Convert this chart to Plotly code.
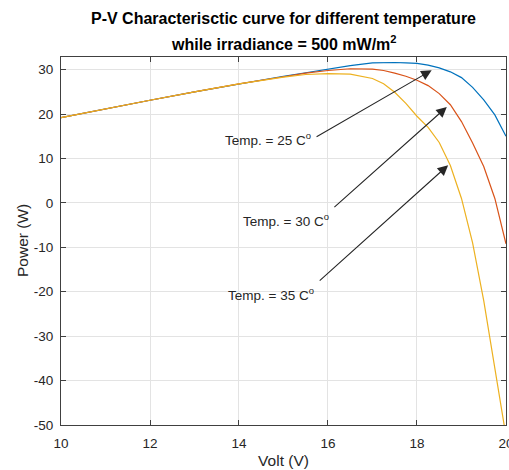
import plotly.graph_objects as go

volt = [10, 11, 12, 13, 14, 15, 15.5, 16, 16.5, 17, 17.25, 17.5, 17.75,
        18, 18.25, 18.5, 18.75, 19, 19.25, 19.5, 19.75, 20]
p_25 = [19.2, 21.2, 23.1, 25.0, 26.8, 28.5, 29.3, 30.1, 30.9, 31.5, 31.6, 31.6, 31.5,
        31.4, 31.0, 30.4, 29.5, 28.2, 26.0, 23.2, 19.8, 15.0]
p_30 = [19.2, 21.2, 23.1, 25.0, 26.8, 28.4, 29.2, 29.8, 30.2, 30.1, 29.8, 29.2, 28.5,
        27.6, 26.4, 24.6, 22.1, 18.3, 13.5, 8.2, 1.0, -9.2]
p_35 = [19.2, 21.2, 23.1, 25.0, 26.8, 28.3, 28.9, 29.1, 29.0, 28.0, 26.8, 24.9, 22.4,
        19.5, 17.0, 13.6, 8.4, 1.0, -9.0, -22.0, -37.0, -52.5]

series = [("25", p_25, "#0072BD"), ("30", p_30, "#D95319"), ("35", p_35, "#EDB120")]

x_ticks = [10, 12, 14, 16, 18, 20]
x_ticktext = ["10", "12", "14", "16", "18", "20"]
y_ticks = [-50, -40, -30, -20, -10, 0, 10, 20, 30]
y_ticktext = ["-50", "-40", "-30", "-20", "-10", "0", "10", "20", "30"]

labels = ["Temp. = 25 C<sup>o</sup>", "Temp. = 30 C<sup>o</sup>", "Temp. = 35 C<sup>o</sup>"]
label_pos = [(15.67, 14.3), (16.07, -3.9), (15.74, -20.4)]
arrow_tail = [(15.71, 14.7), (16.11, -1.26), (15.78, -17.8)]
arrow_head = [(18.33, 29.85), (18.67, 21.6), (18.70, 8.48)]

title1 = "P-V Characterisctic curve for different temperature"
title2 = "while irradiance = 500 mW/m<sup>2</sup>"
x_title = "Volt (V)"
y_title = "Power (W)"

FONT = "Liberation Sans, Arial, sans-serif"
DARK = "#262626"

fig = go.Figure()
for name, vals, col in series:
    fig.add_trace(go.Scatter(x=volt, y=vals, mode="lines", name=name,
                             line=dict(color=col, width=1.2), showlegend=False))

ann = []
for (tx, ty), (hx, hy) in zip(arrow_tail, arrow_head):
    ann.append(dict(x=hx, y=hy, ax=tx, ay=ty, xref="x", yref="y", axref="x", ayref="y",
                    text="", showarrow=True, arrowhead=2, arrowsize=1.9, arrowwidth=1.1,
                    arrowcolor=DARK, standoff=0, startstandoff=0))
for txt, (x, y) in zip(labels, label_pos):
    ann.append(dict(x=x, y=y, xref="x", yref="y", text=txt, showarrow=False,
                    xanchor="right", yanchor="middle",
                    font=dict(family=FONT, size=13.5, color=DARK)))
ann.append(dict(x=0.5, y=1.104, xref="paper", yref="paper", text="<b>" + title1 + "</b>",
                showarrow=False, xanchor="center", yanchor="middle",
                font=dict(family=FONT, size=16, color="#000000")))
ann.append(dict(x=0.5, y=1.0394, xref="paper", yref="paper", text="<b>" + title2 + "</b>",
                showarrow=False, xanchor="center", yanchor="middle",
                font=dict(family=FONT, size=16, color="#000000")))
ann.append(dict(x=-0.0876, y=0.5, xref="paper", yref="paper", text=y_title, textangle=-90,
                showarrow=False, xanchor="center", yanchor="middle",
                font=dict(family=FONT, size=15.5, color=DARK)))

axis_common = dict(showline=True, linecolor="#404040", linewidth=1, mirror="ticks",
                   ticks="inside", ticklen=5, tickcolor="#404040", tickwidth=1,
                   showgrid=True, gridcolor="#e3e3e3", gridwidth=1, zeroline=False,
                   automargin=False, ticklabeloverflow="allow",
                   tickfont=dict(family=FONT, size=13.5, color=DARK))

fig.update_layout(
    width=509, height=470,
    margin=dict(l=61, r=3, t=57, b=45),
    paper_bgcolor="white", plot_bgcolor="white",
    xaxis=dict(range=[10, 20.0005], tickvals=x_ticks, ticktext=x_ticktext,
               title=dict(text=x_title, font=dict(family=FONT, size=15.5, color=DARK), standoff=4),
               ticklabelstandoff=6, **axis_common),
    yaxis=dict(range=[-50, 32.84], tickvals=y_ticks, ticktext=y_ticktext,
               ticklabelstandoff=4, **axis_common),
    annotations=ann,
)

fig.write_html("out.html", config={"displayModeBar": False},
               post_script="document.body.style.margin='0';document.body.style.padding='0';")
